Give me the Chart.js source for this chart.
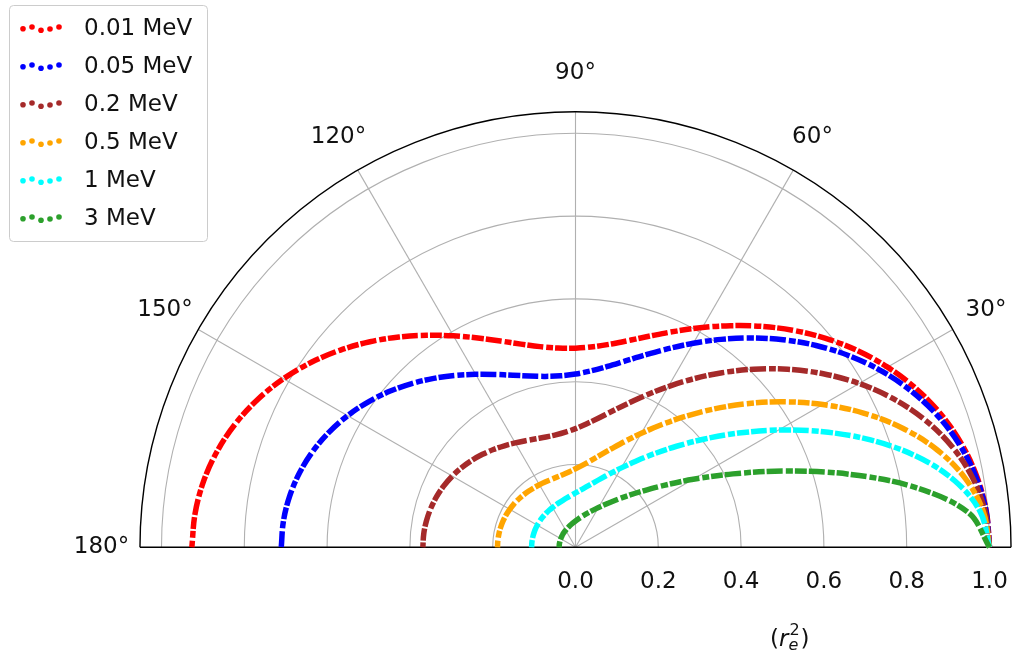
<!DOCTYPE html>
<html><head><meta charset="utf-8">
<script src="https://cdn.jsdelivr.net/npm/chart.js@4/dist/chart.umd.min.js"></script>
<style>html,body{margin:0;padding:0;background:#fff;overflow:hidden}canvas{display:block}</style>
</head><body>
<canvas id="c" width="1013" height="657"></canvas>
<script>
// scattering angle (degrees)
const angles = [0,5,10,15,20,25,30,35,40,45,50,55,60,65,70,75,80,85,90,95,100,105,110,115,120,125,130,135,140,145,150,155,160,165,170,175,180];
// series labels
const seriesLabels = ['0.01 MeV','0.05 MeV','0.2 MeV','0.5 MeV','1 MeV','3 MeV'];
// differential cross section (r_e^2)
const mev001 = [1.0,0.9961,0.9843,0.9652,0.9393,0.9074,0.8704,0.8296,0.7862,0.7415,0.6968,0.6535,0.6130,0.5762,0.5444,0.5183,0.4988,0.4863,0.4810,0.4830,0.4922,0.5081,0.5302,0.5578,0.5898,0.6254,0.6632,0.7022,0.7412,0.7790,0.8144,0.8463,0.8738,0.8961,0.9126,0.9226,0.9267];
const mev005 = [1.0,0.9955,0.9820,0.9601,0.9305,0.8942,0.8526,0.8068,0.7585,0.7090,0.6602,0.6131,0.5691,0.5293,0.4947,0.4659,0.4435,0.4277,0.4185,0.4158,0.4192,0.4283,0.4423,0.4606,0.4824,0.5067,0.5327,0.5594,0.5861,0.6118,0.6357,0.6573,0.6758,0.6907,0.7017,0.7084,0.7107];
const mev02  = [1.0,0.9932,0.9733,0.9413,0.8988,0.8480,0.7912,0.7307,0.6691,0.6084,0.5505,0.4968,0.4484,0.4059,0.3698,0.3401,0.3166,0.2990,0.2867,0.2792,0.2758,0.2759,0.2789,0.2842,0.2912,0.2994,0.3084,0.3176,0.3268,0.3356,0.3437,0.3510,0.3571,0.3621,0.3657,0.3680,0.3687];
const mev05  = [1.0,0.9888,0.9564,0.9056,0.8410,0.7674,0.6899,0.6127,0.5395,0.4724,0.4128,0.3614,0.3180,0.2823,0.2533,0.2305,0.2127,0.1993,0.1896,0.1827,0.1781,0.1754,0.1740,0.1738,0.1743,0.1754,0.1768,0.1784,0.1801,0.1818,0.1834,0.1849,0.1861,0.1871,0.1878,0.1883,0.1884];
const mev1   = [1.0,0.9815,0.9293,0.8513,0.7582,0.6605,0.5663,0.4810,0.4071,0.3452,0.2946,0.2538,0.2215,0.1960,0.1760,0.1603,0.1481,0.1386,0.1312,0.1255,0.1210,0.1175,0.1148,0.1127,0.1110,0.1098,0.1088,0.1080,0.1075,0.1070,0.1067,0.1064,0.1062,0.1061,0.1060,0.1060,0.1060];
const mev3   = [1.0,0.9533,0.8333,0.6827,0.5387,0.4197,0.3284,0.2609,0.2114,0.1749,0.1477,0.1270,0.1110,0.0985,0.0885,0.0804,0.0738,0.0683,0.0637,0.0599,0.0566,0.0538,0.0514,0.0494,0.0476,0.0461,0.0448,0.0437,0.0427,0.0419,0.0412,0.0407,0.0402,0.0399,0.0397,0.0395,0.0395];
// axis ticks
const radialTicks = [0.0,0.2,0.4,0.6,0.8,1.0];
const angleTicks = [30,60,90,120,150,180];
const rMax = 1.052;

const seriesValues = [mev001, mev005, mev02, mev05, mev1, mev3];
const seriesColors = ['#ff0000','#0000ff','#a52a2a','#ffa500','#00ffff','#2ca02c'];

const D = Math.PI/180;
const toXY = vals => vals.map((r,i) => ({x: r*Math.cos(angles[i]*D), y: r*Math.sin(angles[i]*D)}));

const PX = 414, CX = 575.5, CY = 547.3, W = 1013, H = 657;
const FONT = 'DejaVu Sans';
const TXT = '#111111';

const polarFrame = {
  id: 'polarFrame',
  beforeDatasetsDraw(chart) {
    const {ctx, scales: {x, y}} = chart;
    const cx = x.getPixelForValue(0), cy = y.getPixelForValue(0);
    const pr = v => x.getPixelForValue(v) - cx;
    ctx.save();
    ctx.strokeStyle = '#b0b0b0'; ctx.lineWidth = 1.1;
    radialTicks.forEach(t => {
      if (t <= 0) return;
      ctx.beginPath(); ctx.arc(cx, cy, pr(t), Math.PI, 2*Math.PI); ctx.stroke();
    });
    angleTicks.forEach(a => {
      if (a >= 180) return;
      ctx.beginPath(); ctx.moveTo(cx, cy);
      ctx.lineTo(x.getPixelForValue(rMax*Math.cos(a*D)), y.getPixelForValue(rMax*Math.sin(a*D)));
      ctx.stroke();
    });
    ctx.strokeStyle = '#000'; ctx.lineWidth = 1.4;
    ctx.beginPath(); ctx.arc(cx, cy, pr(rMax), Math.PI, 2*Math.PI); ctx.stroke();
    ctx.beginPath(); ctx.moveTo(x.getPixelForValue(-rMax), cy); ctx.lineTo(x.getPixelForValue(rMax), cy); ctx.stroke();
    ctx.restore();
  },
  afterDraw(chart) {
    const {ctx, scales: {x, y}} = chart;
    const cx = x.getPixelForValue(0), cy = y.getPixelForValue(0);
    ctx.save();
    ctx.fillStyle = TXT;
    ctx.font = '23px "' + FONT + '"';
    ctx.textAlign = 'center'; ctx.textBaseline = 'alphabetic';
    // radial tick labels
    radialTicks.forEach(t => {
      ctx.fillText(t.toFixed(1), x.getPixelForValue(t), cy + 41);
    });
    // angle labels
    const lr = 474/PX;
    angleTicks.forEach(a => {
      const px = x.getPixelForValue(lr*Math.cos(a*D));
      const py = y.getPixelForValue(lr*Math.sin(a*D));
      ctx.fillText(a + '°', px, py - 2.5 + 8.4);
    });
    // axis label (r_e^2)
    ctx.textAlign = 'left';
    let lx = 770, base = 646;
    ctx.font = '23px "' + FONT + '"';
    ctx.fillText('(', lx, base); lx += ctx.measureText('(').width;
    ctx.font = 'italic 23px "' + FONT + '"';
    ctx.fillText('r', lx, base); lx += ctx.measureText('r').width + 1;
    ctx.font = '16px "' + FONT + '"';
    ctx.fillText('2', lx, base - 11);
    const w2 = ctx.measureText('2').width;
    ctx.font = 'italic 16px "' + FONT + '"';
    ctx.fillText('e', lx - 1, base + 4);
    lx += Math.max(w2, ctx.measureText('e').width) + 1;
    ctx.font = '23px "' + FONT + '"';
    ctx.fillText(')', lx, base);
    // legend
    const bx = 9.5, by = 5.5, bw = 198, bh = 236, rr = 4;
    ctx.beginPath();
    ctx.moveTo(bx + rr, by); ctx.lineTo(bx + bw - rr, by); ctx.arcTo(bx + bw, by, bx + bw, by + rr, rr);
    ctx.lineTo(bx + bw, by + bh - rr); ctx.arcTo(bx + bw, by + bh, bx + bw - rr, by + bh, rr);
    ctx.lineTo(bx + rr, by + bh); ctx.arcTo(bx, by + bh, bx, by + bh - rr, rr);
    ctx.lineTo(bx, by + rr); ctx.arcTo(bx, by, bx + rr, by, rr); ctx.closePath();
    ctx.fillStyle = 'rgba(255,255,255,0.8)'; ctx.fill();
    ctx.strokeStyle = '#cccccc'; ctx.lineWidth = 1; ctx.stroke();
    const dotX = [23, 32, 41, 50, 59], dotDY = [1.7, 0, 3.3, 2, 0];
    seriesLabels.forEach((lab, i) => {
      const rowY = 27 + 38*i;
      ctx.fillStyle = seriesColors[i];
      dotX.forEach((dx, k) => { ctx.beginPath(); ctx.arc(dx, rowY + dotDY[k], 2.8, 0, 2*Math.PI); ctx.fill(); });
      ctx.fillStyle = TXT;
      ctx.font = '23px "' + FONT + '"';
      ctx.fillText(lab, 84, rowY + 8.4);
    });
    ctx.restore();
  }
};

new Chart(document.getElementById('c'), {
  type: 'scatter',
  data: {
    datasets: seriesValues.map((vals, i) => ({
      label: seriesLabels[i],
      data: toXY(vals),
      showLine: true,
      borderColor: seriesColors[i],
      backgroundColor: seriesColors[i],
      borderWidth: 5.5,
      borderDash: [12, 2, 7, 3, 16, 2],
      pointRadius: 0,
      tension: 0.35,
      fill: false,
      order: seriesValues.length - i
    }))
  },
  options: {
    responsive: false,
    animation: false,
    events: [],
    layout: {padding: 0},
    plugins: {legend: {display: false}, tooltip: {enabled: false}},
    scales: {
      x: {type: 'linear', display: false, min: -CX/PX, max: (W - CX)/PX},
      y: {type: 'linear', display: false, min: -(H - CY)/PX, max: CY/PX}
    }
  },
  plugins: [polarFrame]
});
</script>
</body></html>
